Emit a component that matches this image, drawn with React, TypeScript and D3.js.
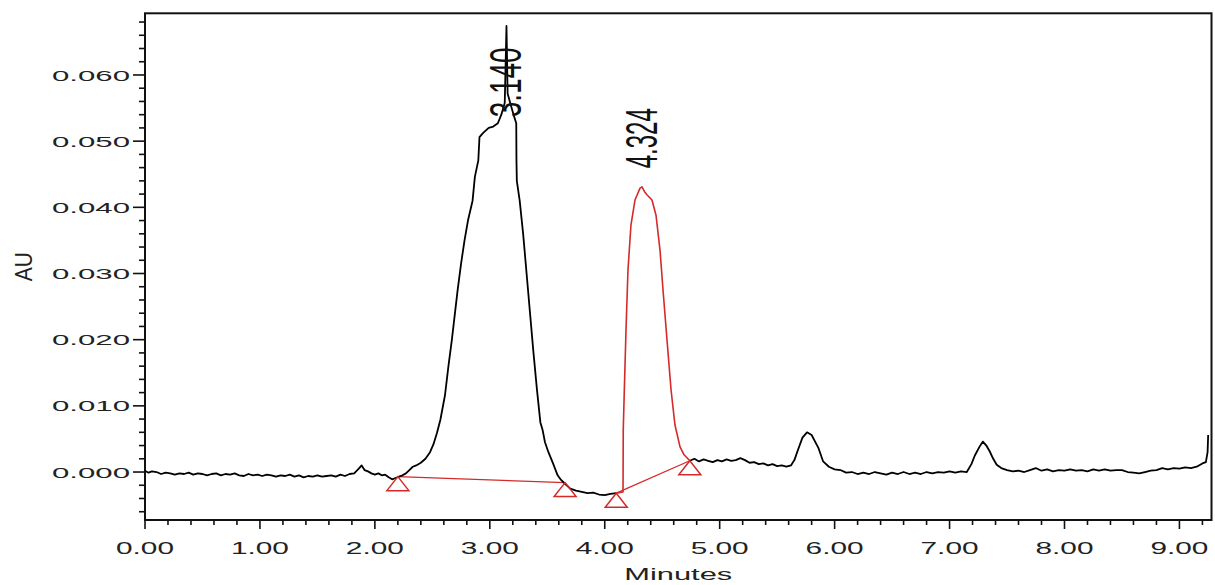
import React from 'react';
import * as d3 from 'd3';

const X_TICKS = [0, 1, 2, 3, 4, 5, 6, 7, 8, 9];
const X_TICK_LABELS = ['0.00', '1.00', '2.00', '3.00', '4.00', '5.00', '6.00', '7.00', '8.00', '9.00'];
const Y_TICKS = [0, 0.01, 0.02, 0.03, 0.04, 0.05, 0.06];
const Y_TICK_LABELS = ['0.000', '0.010', '0.020', '0.030', '0.040', '0.050', '0.060'];
const X_DOMAIN = [0, 9.279];
const Y_DOMAIN = [-0.00725, 0.06932];

// black trace up to the start of the second integrated peak
const TRACE_A: [number, number][] = [
  [0.00, 0.0002], [0.03, -0.0001], [0.06, 0.0001], [0.10, 0.0000], [0.14, -0.0003], [0.18, -0.0001], [0.22, -0.0002],
  [0.26, -0.0004], [0.30, -0.0002], [0.34, -0.0003], [0.38, -0.0001], [0.42, -0.0004], [0.46, -0.0002], [0.50, -0.0003],
  [0.54, -0.0005], [0.58, -0.0003], [0.62, -0.0002], [0.66, -0.0005], [0.70, -0.0003], [0.74, -0.0004], [0.78, -0.0002],
  [0.82, -0.0005], [0.86, -0.0006], [0.90, -0.0003], [0.94, -0.0005], [0.98, -0.0004], [1.02, -0.0006], [1.06, -0.0004],
  [1.10, -0.0005], [1.14, -0.0007], [1.18, -0.0005], [1.22, -0.0006], [1.26, -0.0004], [1.30, -0.0007], [1.34, -0.0005],
  [1.38, -0.0008], [1.42, -0.0006], [1.46, -0.0007], [1.50, -0.0005], [1.54, -0.0007], [1.58, -0.0006], [1.62, -0.0005],
  [1.66, -0.0007], [1.70, -0.0004], [1.74, -0.0006], [1.78, -0.0003], [1.82, -0.0002], [1.86, 0.0005], [1.885, 0.0010],
  [1.91, 0.0003], [1.94, 0.0001], [1.97, -0.0002], [2.00, -0.0004], [2.03, -0.0002], [2.06, -0.0005], [2.09, -0.0004],
  [2.12, -0.0008], [2.15, -0.0011], [2.18, -0.0009], [2.21, -0.0007], [2.24, -0.0005], [2.27, -0.0002], [2.30, 0.0003],
  [2.33, 0.0008], [2.36, 0.0010], [2.40, 0.0014], [2.44, 0.0020], [2.48, 0.0030], [2.51, 0.0042], [2.54, 0.0059],
  [2.57, 0.0079], [2.61, 0.0116], [2.64, 0.0160], [2.67, 0.0200], [2.70, 0.0245], [2.72, 0.0275], [2.75, 0.0315],
  [2.78, 0.0350], [2.81, 0.0380], [2.85, 0.0410], [2.87, 0.0446], [2.90, 0.0471], [2.91, 0.0506], [2.94, 0.0512],
  [2.99, 0.0520], [3.03, 0.0522], [3.07, 0.0527], [3.10, 0.0540], [3.13, 0.0558], [3.145, 0.0674], [3.155, 0.0572],
  [3.18, 0.0556], [3.21, 0.0538], [3.23, 0.0527], [3.232, 0.0470], [3.235, 0.0440], [3.26, 0.0410], [3.29, 0.0360],
  [3.32, 0.0300], [3.35, 0.0240], [3.38, 0.0180], [3.41, 0.0125], [3.44, 0.0075], [3.46, 0.0063], [3.48, 0.0045],
  [3.51, 0.0030], [3.55, 0.0013], [3.59, -0.0005], [3.62, -0.0012], [3.65, -0.0017], [3.70, -0.0025], [3.75, -0.0028],
  [3.80, -0.0030], [3.85, -0.0032], [3.90, -0.0031], [3.95, -0.0034], [4.00, -0.0035], [4.05, -0.0033], [4.10, -0.0032],
];

// red trace: integrated second peak
const TRACE_B: [number, number][] = [
  [4.10, -0.0032], [4.159, -0.0030], [4.161, 0.0063], [4.168, 0.0109], [4.185, 0.0215], [4.202, 0.0305],
  [4.228, 0.0373], [4.263, 0.0411], [4.307, 0.0429], [4.324, 0.0431], [4.345, 0.0424], [4.367, 0.0419],
  [4.411, 0.0411], [4.446, 0.0388], [4.481, 0.0335], [4.507, 0.0275], [4.542, 0.0199], [4.577, 0.0124],
  [4.611, 0.0071], [4.655, 0.0038], [4.69, 0.0026], [4.74, 0.0017],
];

// black trace after the second peak
const TRACE_C: [number, number][] = [
  [4.74, 0.0017], [4.78, 0.0020], [4.82, 0.0016], [4.86, 0.0019], [4.90, 0.0017], [4.94, 0.0015], [4.98, 0.0018],
  [5.02, 0.0016], [5.06, 0.0019], [5.10, 0.0017], [5.14, 0.0018], [5.18, 0.0021], [5.22, 0.0018], [5.26, 0.0014],
  [5.30, 0.0015], [5.34, 0.0012], [5.38, 0.0013], [5.42, 0.0010], [5.46, 0.0012], [5.50, 0.0009], [5.54, 0.0010],
  [5.58, 0.0008], [5.62, 0.0010], [5.65, 0.0018], [5.68, 0.0033], [5.72, 0.0052], [5.76, 0.0060], [5.80, 0.0056],
  [5.83, 0.0046], [5.86, 0.0036], [5.90, 0.0016], [5.95, 0.0008], [6.00, 0.0004], [6.05, 0.0003], [6.10, -0.0001],
  [6.15, 0.0000], [6.20, -0.0003], [6.25, -0.0001], [6.30, -0.0003], [6.35, 0.0000], [6.40, -0.0002], [6.45, -0.0004],
  [6.50, -0.0001], [6.55, -0.0003], [6.60, 0.0000], [6.65, -0.0003], [6.70, -0.0001], [6.75, -0.0003], [6.80, 0.0000],
  [6.85, -0.0002], [6.90, 0.0000], [6.95, -0.0001], [7.00, 0.0001], [7.05, -0.0001], [7.10, 0.0001], [7.15, 0.0000],
  [7.19, 0.0012], [7.22, 0.0025], [7.26, 0.0038], [7.29, 0.0046], [7.32, 0.0040], [7.35, 0.0031], [7.38, 0.0020],
  [7.41, 0.0011], [7.45, 0.0006], [7.50, 0.0003], [7.55, 0.0001], [7.60, 0.0002], [7.65, 0.0000], [7.70, 0.0003],
  [7.75, 0.0006], [7.80, 0.0002], [7.85, 0.0004], [7.90, 0.0001], [7.95, 0.0003], [8.00, 0.0002], [8.05, 0.0004],
  [8.10, 0.0002], [8.15, 0.0003], [8.20, 0.0001], [8.25, 0.0004], [8.30, 0.0002], [8.35, 0.0004], [8.40, 0.0002],
  [8.45, 0.0003], [8.50, 0.0003], [8.55, 0.0000], [8.60, -0.0001], [8.65, -0.0002], [8.70, 0.0000], [8.75, 0.0002],
  [8.80, 0.0003], [8.85, 0.0006], [8.90, 0.0004], [8.95, 0.0006], [9.00, 0.0005], [9.05, 0.0007], [9.10, 0.0006],
  [9.15, 0.0008], [9.20, 0.0013], [9.23, 0.0015], [9.245, 0.0030], [9.25, 0.0056],
];

const BASELINES: [number, number][][] = [
  [[2.20, -0.0007], [3.655, -0.0016]],
  [[4.10, -0.0032], [4.74, 0.0017]],
];
const BASE_MARKS: [number, number][] = [
  [2.20, -0.0007], [3.655, -0.0016], [4.10, -0.0032], [4.74, 0.0017],
];
const PEAK_NAMES = ['3.140', '4.324'];
const PEAK_TIMES = [3.14, 4.324];
const PEAK_LABEL_BASE = [0.0536, 0.0459];

const W = 1215;
const H = 585;
const L = 145, R = 1211.5, T = 13.3, B = 520;
const RED = '#d42a2a';
const FONT = '"Liberation Sans", Arial, sans-serif';

export default function App() {
  const x = d3.scaleLinear().domain(X_DOMAIN).range([L, R]);
  const y = d3.scaleLinear().domain(Y_DOMAIN).range([B, T]);
  const line = d3.line<[number, number]>().x(d => x(d[0])).y(d => y(d[1]));

  const xMinor = d3.range(0, 9.21, 0.2).filter(v => Math.abs(v - Math.round(v)) > 1e-6);
  const yMinor = d3.range(-0.006, 0.0681, 0.002).filter(v => Math.abs(v * 100 - Math.round(v * 100)) > 1e-6);

  return (
    <svg width={W} height={H} style={{ position: 'absolute', left: 0, top: 0, background: '#fff' }}>
      <rect x={0} y={0} width={W} height={H} fill="#fff" />
      {/* frame */}
      <rect x={L} y={T} width={R - L} height={B - T} fill="none" stroke="#111" strokeWidth={2} />
      {/* y ticks */}
      {Y_TICKS.map((v, i) => (
        <g key={'yt' + i}>
          <line x1={L - 12} x2={L} y1={y(v)} y2={y(v)} stroke="#111" strokeWidth={1.6} />
          <text x={130} y={y(v)} dy="0.36em" textAnchor="end" fontFamily={FONT} fontSize={15.5}
            fill="#222" textLength={78} lengthAdjust="spacingAndGlyphs">{Y_TICK_LABELS[i]}</text>
        </g>
      ))}
      {yMinor.map((v, i) => (
        <line key={'ym' + i} x1={L - 6} x2={L} y1={y(v)} y2={y(v)} stroke="#111" strokeWidth={1.6} />
      ))}
      {/* x ticks */}
      {X_TICKS.map((v, i) => (
        <g key={'xt' + i}>
          <line x1={x(v)} x2={x(v)} y1={B} y2={B + 9} stroke="#111" strokeWidth={1.6} />
          <text x={x(v)} y={554} textAnchor="middle" fontFamily={FONT} fontSize={16.5}
            fill="#222" textLength={58} lengthAdjust="spacingAndGlyphs">{X_TICK_LABELS[i]}</text>
        </g>
      ))}
      {xMinor.map((v, i) => (
        <line key={'xm' + i} x1={x(v)} x2={x(v)} y1={B} y2={B + 5} stroke="#111" strokeWidth={1.6} />
      ))}
      {/* axis titles */}
      <text x={(L + R) / 2} y={580} textAnchor="middle" fontFamily={FONT} fontSize={17} fill="#222"
        textLength={108} lengthAdjust="spacingAndGlyphs">Minutes</text>
      <g transform={`translate(24, ${(T + B) / 2}) scale(1.5, 1) rotate(-90)`}>
        <text x={0} y={0} textAnchor="middle" dominantBaseline="central" fontFamily={FONT} fontSize={16}
          fill="#222" textLength={29} lengthAdjust="spacingAndGlyphs">AU</text>
      </g>
      {/* baselines */}
      {BASELINES.map((b, i) => (
        <path key={'bl' + i} d={line(b) || ''} fill="none" stroke={RED} strokeWidth={1.3} />
      ))}
      {/* traces */}
      <path d={line(TRACE_A) || ''} fill="none" stroke="#000" strokeWidth={1.8} strokeLinejoin="round" />
      <path d={line(TRACE_C) || ''} fill="none" stroke="#000" strokeWidth={1.8} strokeLinejoin="round" />
      <path d={line(TRACE_B) || ''} fill="none" stroke={RED} strokeWidth={1.6} strokeLinejoin="round" />
      {/* baseline markers */}
      {BASE_MARKS.map((p, i) => {
        const px = x(p[0]);
        const py = y(p[1]);
        return (
          <path key={'bm' + i} d={`M${px},${py} L${px + 11},${py + 14} L${px - 11},${py + 14} Z`}
            fill="none" stroke={RED} strokeWidth={1.5} />
        );
      })}
      {/* peak labels */}
      {PEAK_NAMES.map((n, i) => (
        <g key={'pl' + i} transform={`translate(${x(PEAK_TIMES[i])}, ${y(PEAK_LABEL_BASE[i])}) scale(1.85, 1) rotate(-90)`}>
          <text x={0} y={0} dominantBaseline="central" fontFamily={FONT} fontSize={24} fill="#111"
            textLength={i === 0 ? 70 : 60} lengthAdjust="spacingAndGlyphs">{n}</text>
        </g>
      ))}
    </svg>
  );
}
